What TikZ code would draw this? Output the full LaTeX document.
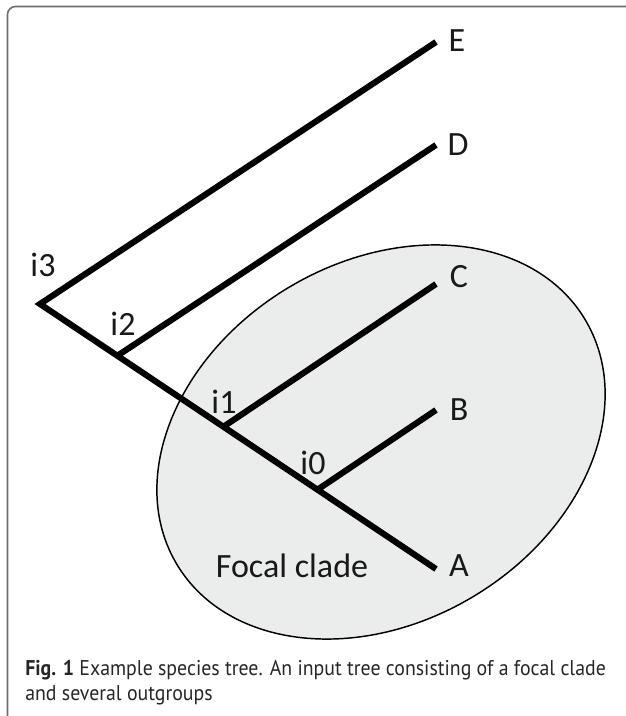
\documentclass[tikz,border=0pt]{standalone}
\usepackage{fontspec}
\setmainfont{Carlito}
\newfontfamily\capfont{PT Sans}
\definecolor{framecol}{HTML}{6E6E6E}
\definecolor{ellfill}{HTML}{EBECEC}
\begin{document}
\begin{tikzpicture}[x=0.75pt,y=-0.75pt,
  branch/.style={line width=4.6pt, line join=miter, line cap=butt},
  lbl/.style={font=\fontsize{25.5}{30}\selectfont, inner sep=0pt, text=black!90},
  captext/.style={anchor=base west, inner sep=0pt, font=\capfont\fontsize{16}{19}\selectfont, text=black!85}]
\useasboundingbox (0,0) rectangle (625,716);
% frame
\draw[framecol, line width=1.2pt, rounded corners=6pt] (7.5,720) -- (7.5,6.5) -- (630,6.5);
% focal clade ellipse
\draw[fill=ellfill, line width=1.1pt, rotate around={31:(381,442)}] (381,442) ellipse [x radius=238, y radius=180];
% tree coordinates
\coordinate (i3) at (40,304);
\coordinate (i2) at (117,356);
\coordinate (i1) at (223,427);
\coordinate (i0) at (317,490);
\coordinate (tE) at (436,42);
\coordinate (tD) at (436,145);
\coordinate (tC) at (436,284);
\coordinate (tB) at (436,410);
\coordinate (tA) at (436,569);
% branches
\draw[branch] (tE) -- (i3) -- (tA);
\draw[branch] (i2) -- (tD);
\draw[branch] (i1) -- (tC);
\draw[branch] (i0) -- (tB);
% labels
\node[lbl] (lE) at (457,41) {E};
\node[lbl] (lD) at (458,145) {D};
\node[lbl] (lC) at (459,277) {C};
\node[lbl] (lB) at (459,410) {B};
\node[lbl] (lA) at (459,566) {A};
\node[lbl] (l3) at (43,265) {i3};
\node[lbl] (l2) at (123,324) {i2};
\node[lbl] (l1) at (224,402) {i1};
\node[lbl] (l0) at (313,463) {i0};
\node[lbl] (fc) at (292,566) {Focal clade};
% caption
\node[captext] (cap1) at (25,675) {\scalebox{0.93}[1]{\textbf{Fig. 1} Example species tree. An input tree consisting of a focal clade}};
\node[captext] (cap2) at (25,700) {\scalebox{0.93}[1]{and several outgroups}};
\end{tikzpicture}
\end{document}
